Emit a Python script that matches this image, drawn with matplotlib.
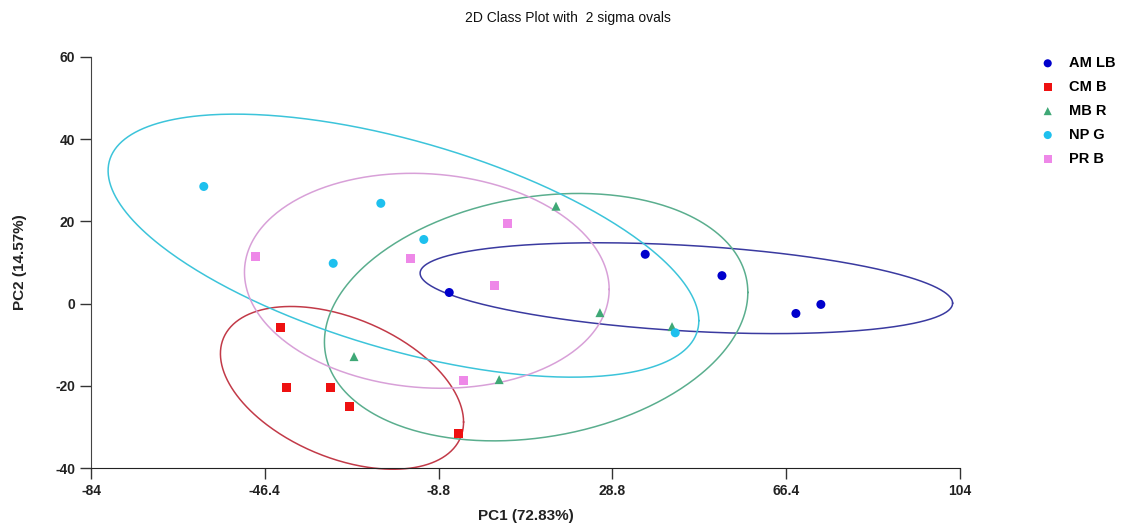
import numpy as np
import matplotlib
matplotlib.use("Agg")
import matplotlib.pyplot as plt

plt.rcParams['font.family'] = ['Liberation Sans Narrow', 'Liberation Sans', 'DejaVu Sans']
plt.rcParams['axes.unicode_minus'] = False

# class scores (PC1, PC2)
classes = ["AM LB", "CM B", "MB R", "NP G", "PR B"]
amlb_x = [-6.5, 35.9, 52.5, 68.5, 73.9]
amlb_y = [2.7, 12.0, 6.8, -2.4, -0.2]
cmb_x = [-42.9, -41.6, -32.1, -28.0, -4.4]
cmb_y = [-5.9, -20.5, -20.5, -25.1, -31.5]
mbr_x = [-27.1, 4.3, 16.6, 26.1, 41.7]
mbr_y = [-12.9, -18.5, 23.7, -2.2, -5.6]
npg_x = [-59.6, -31.6, -21.3, -12.0, 42.4]
npg_y = [28.5, 9.8, 24.4, 15.6, -7.1]
prb_x = [-48.5, -14.8, -3.5, 3.2, 6.0]
prb_y = [11.5, 11.0, -18.8, 4.4, 19.5]

# 2 sigma oval per class: centre, 2*sd along PC1, 2*sd along PC2, correlation
oval_cx = [44.8, -29.7, 12.3, -16.4, -11.35]
oval_cy = [3.75, -20.5, -3.3, 14.1, 5.55]
oval_rx = [57.6, 26.3, 45.8, 63.9, 39.45]
oval_ry = [11.05, 19.8, 30.1, 32.0, 26.15]
oval_rho = [-0.33, -0.42, 0.2, -0.57, -0.08]

xticks = [-84, -46.4, -8.8, 28.8, 66.4, 104]
yticks = [-40, -20, 0, 20, 40, 60]

xs = [amlb_x, cmb_x, mbr_x, npg_x, prb_x]
ys = [amlb_y, cmb_y, mbr_y, npg_y, prb_y]
markers = ["o", "s", "^", "o", "s"]
colors = ["#0000CC", "#EE1111", "#3FA876", "#1EC0EE", "#EE88E8"]
oval_colors = ["#3A3AA0", "#C23A48", "#5AAE8E", "#3CC4DA", "#D8A0D8"]

fig = plt.figure(figsize=(11.22, 5.29), dpi=100)
ax = fig.add_axes([91 / 1122, 1 - 468 / 529, (960 - 91) / 1122, (468 - 57) / 529])

t = np.linspace(0, 2 * np.pi, 400)
for i in range(len(classes)):
    ex = oval_cx[i] + oval_rx[i] * np.cos(t)
    ey = oval_cy[i] + oval_ry[i] * (oval_rho[i] * np.cos(t) + np.sqrt(1 - oval_rho[i] ** 2) * np.sin(t))
    ax.plot(ex, ey, color=oval_colors[i], lw=1.1, zorder=2, clip_on=False)

for i in range(len(classes)):
    ax.scatter(xs[i], ys[i], marker=markers[i], s=42, color=colors[i],
               edgecolors="none", label=classes[i], zorder=3)

ax.set_xlim(-84, 104)
ax.set_ylim(-40, 60)
ax.set_xticks(xticks)
ax.set_xticklabels([f"{v:g}" for v in xticks])
ax.set_yticks(yticks)
ax.spines["top"].set_visible(False)
ax.spines["right"].set_visible(False)
ax.spines["left"].set_color("#444444")
ax.spines["bottom"].set_color("#222222")
ax.tick_params(direction="out", length=8, width=1, colors="#333333", labelsize=10)
for lab in ax.get_xticklabels() + ax.get_yticklabels():
    lab.set_fontweight("bold")
    lab.set_color("#222222")

ax.set_xlabel("PC1 (72.83%)", fontsize=11, fontweight="bold", color="#222222", labelpad=8)
ax.set_ylabel("PC2 (14.57%)", fontsize=11, fontweight="bold", color="#222222", labelpad=20)
fig.text(568 / 1122, 1 - 18 / 529, "2D Class Plot with  2 sigma ovals", ha="center",
         va="center", fontsize=10, color="#111111")

leg = fig.legend(loc="upper left", bbox_to_anchor=(1020 / 1122, 1 - 43 / 529),
                 frameon=False, prop={"size": 10.5, "weight": "bold"},
                 labelspacing=0.68, handlelength=2.0, handletextpad=0.45, markerscale=0.9)

fig.savefig("out.png", dpi=100)
